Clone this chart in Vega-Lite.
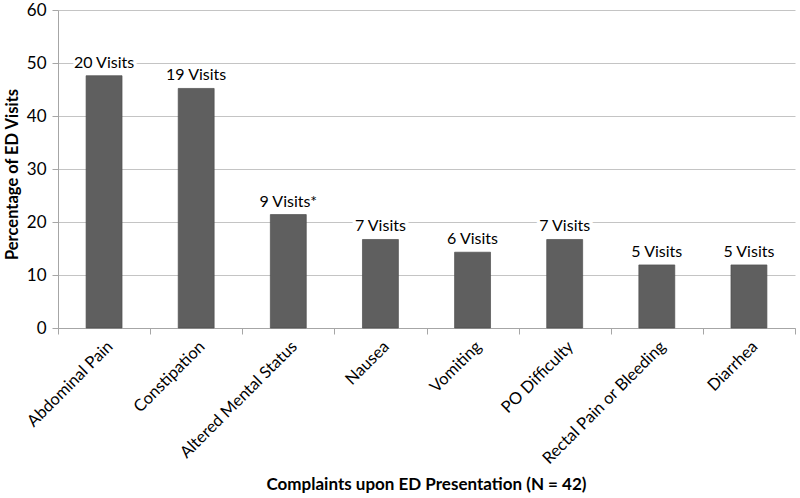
{
  "$schema": "https://vega.github.io/schema/vega-lite/v6.json",
  "width": 737,
  "height": 318,
  "autosize": "none",
  "padding": {"left": 58, "top": 10, "right": 5, "bottom": 170},
  "background": "white",
  "config": {
    "view": {"stroke": null},
    "font": "Lato",
    "axis": {"labelFont": "Lato", "titleFont": "Lato"}
  },
  "data": {
    "values": [
      {"complaint": "Abdominal Pain", "pct": 47.6, "label": "20 Visits"},
      {"complaint": "Constipation", "pct": 45.2, "label": "19 Visits"},
      {"complaint": "Altered Mental Status", "pct": 21.4, "label": "9 Visits*"},
      {"complaint": "Nausea", "pct": 16.7, "label": "7 Visits"},
      {"complaint": "Vomiting", "pct": 14.3, "label": "6 Visits"},
      {"complaint": "PO Difficulty", "pct": 16.7, "label": "7 Visits"},
      {"complaint": "Rectal Pain or Bleeding", "pct": 11.9, "label": "5 Visits"},
      {"complaint": "Diarrhea", "pct": 11.9, "label": "5 Visits"}
    ]
  },
  "encoding": {
    "x": {
      "field": "complaint",
      "type": "nominal",
      "sort": null,
      "scale": {"paddingInner": 0, "paddingOuter": 0},
      "axis": {
        "title": "Complaints upon ED Presentation (N = 42)",
        "titleFontSize": 17,
        "titleFontWeight": "bold",
        "titleColor": "#000000",
        "titleX": 368,
        "titleY": 156,
        "titleBaseline": "middle",
        "titleAnchor": "middle",
        "labelAngle": -45,
        "labelAlign": "right",
        "labelBaseline": "top",
        "labelFontSize": 16.5,
        "labelColor": "#000000",
        "labelPadding": 4,
        "tickBand": "extent",
        "ticks": true,
        "tickSize": 6,
        "tickColor": "#a6a6a6",
        "domainColor": "#a6a6a6",
        "grid": false
      }
    },
    "y": {
      "field": "pct",
      "type": "quantitative",
      "scale": {"domain": [0, 60], "nice": false},
      "axis": {
        "title": "Percentage of ED Visits",
        "titleFontSize": 16.5,
        "titleFontWeight": "bold",
        "titleColor": "#000000",
        "titleX": -46,
        "titleY": 164,
        "titleBaseline": "middle",
        "titleAngle": -90,
        "values": [0, 10, 20, 30, 40, 50, 60],
        "labelFontSize": 17,
        "labelColor": "#000000",
        "labelPadding": 6,
        "tickSize": 6,
        "tickColor": "#a6a6a6",
        "domainColor": "#a6a6a6",
        "grid": true,
        "gridColor": "#c4c4c4",
        "gridWidth": 1
      }
    }
  },
  "layer": [
    {
      "mark": {"type": "bar", "width": {"band": 0.39}, "fill": "#5f5f5f", "stroke": "#4f4f4f", "strokeWidth": 0.7}
    },
    {
      "mark": {"type": "text", "baseline": "bottom", "dy": -5, "fontSize": 16, "stroke": "white", "strokeWidth": 7, "fill": "white", "strokeJoin": "round"},
      "encoding": {"text": {"field": "label"}}
    },
    {
      "mark": {"type": "text", "baseline": "bottom", "dy": -5, "fontSize": 16, "fill": "#000000"},
      "encoding": {"text": {"field": "label"}}
    }
  ]
}
